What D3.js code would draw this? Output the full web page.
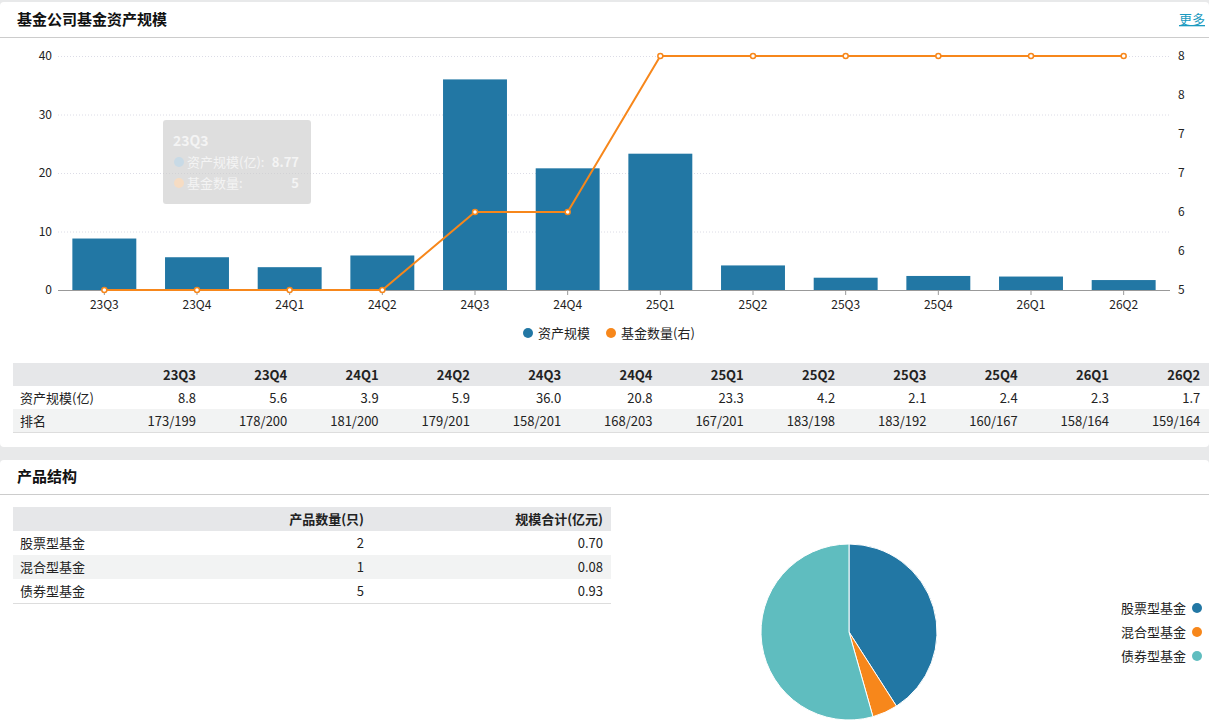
<!DOCTYPE html>
<html><head><meta charset="utf-8">
<script src="https://cdn.jsdelivr.net/npm/d3@7"></script>
<style>
body{margin:0;background:#e8e9ea;font-family:"Microsoft YaHei","Noto Sans CJK SC",sans-serif;}
</style></head>
<body><div id="root"></div>
<script>
// data
var quarters = ["23Q3","23Q4","24Q1","24Q2","24Q3","24Q4","25Q1","25Q2","25Q3","25Q4","26Q1","26Q2"]
var assets = [8.8,5.6,3.9,5.9,36.0,20.8,23.3,4.2,2.1,2.4,2.3,1.7]
var fundCount = [5,5,5,5,6,6,8,8,8,8,8,8]
var ranks = ["173/199","178/200","181/200","179/201","158/201","168/203","167/201","183/198","183/192","160/167","158/164","159/164"]
var leftTicks = [0,10,20,30,40]
var rightTicks = [5,5.5,6,6.5,7,7.5,8]
var types = ["股票型基金","混合型基金","债券型基金"]
var typeCount = [2,1,5]
var typeScale = [0.70,0.08,0.93]
var colors = ["#2277a4","#f7871b","#5fbdbf"]

var W = 1209, H = 724
var svg = d3.select("#root").append("svg").attr("width", W).attr("height", H)
var font = "Microsoft YaHei, Noto Sans CJK SC, sans-serif"

// cards
svg.append("rect").attr("x",0).attr("y",2).attr("width",W).attr("height",445).attr("rx",4).attr("fill","#fff")
svg.append("rect").attr("x",0).attr("y",460).attr("width",W).attr("height",270).attr("rx",4).attr("fill","#fff")
svg.append("line").attr("x1",0).attr("x2",W).attr("y1",37.5).attr("y2",37.5).attr("stroke","#ccc")
svg.append("line").attr("x1",0).attr("x2",W).attr("y1",494.5).attr("y2",494.5).attr("stroke","#ccc")
svg.append("text").attr("x",17).attr("y",25).text("基金公司基金资产规模").attr("font-size",15).attr("font-weight","bold").attr("fill","#111")
svg.append("text").attr("x",1205).attr("y",24).text("更多").attr("font-size",13).attr("fill","#1a9ac0").attr("text-anchor","end").attr("text-decoration","underline")
svg.append("text").attr("x",17).attr("y",482).text("产品结构").attr("font-size",15).attr("font-weight","bold").attr("fill","#111")

// chart
var x = d3.scaleBand().domain(quarters).range([58,1170]).paddingInner(0.31).paddingOuter(0.155)
var y = d3.scaleLinear().domain([0,40]).range([290,56])
var y2 = d3.scaleLinear().domain([5,8]).range([290,56])
var g = svg.append("g")

g.selectAll(".grid").data(leftTicks.slice(1)).enter().append("line")
  .attr("x1",58).attr("x2",1170).attr("y1",function(d){return y(d)+0.5}).attr("y2",function(d){return y(d)+0.5})
  .attr("stroke","#dcdce6").attr("stroke-dasharray","1,2")
g.selectAll(".lt").data(leftTicks).enter().append("text")
  .attr("x",52).attr("y",function(d){return y(d)+4}).attr("text-anchor","end").attr("font-size",12).attr("fill","#222").text(function(d){return d})
g.selectAll(".rt").data(rightTicks).enter().append("text")
  .attr("x",1178).attr("y",function(d){return y2(d)+4}).attr("font-size",12).attr("fill","#222").text(function(d){return Math.round(d)})

g.selectAll(".bar").data(assets).enter().append("rect")
  .attr("x",function(d,i){return x(quarters[i])}).attr("width",x.bandwidth())
  .attr("y",function(d){return y(d)}).attr("height",function(d){return 290-y(d)})
  .attr("fill","#2277a4")
g.append("line").attr("x1",58).attr("x2",1170).attr("y1",290.5).attr("y2",290.5).attr("stroke","#999")
var xc = function(i){return x(quarters[i])+x.bandwidth()/2}
g.selectAll(".xt").data(quarters).enter().append("line")
  .attr("x1",function(d,i){return xc(i)}).attr("x2",function(d,i){return xc(i)}).attr("y1",290).attr("y2",295).attr("stroke","#999")
g.selectAll(".xl").data(quarters).enter().append("text")
  .attr("x",function(d,i){return xc(i)}).attr("y",309).attr("text-anchor","middle").attr("font-size",12).attr("fill","#222").text(function(d){return d})

var line = d3.line().x(function(d,i){return xc(i)}).y(function(d){return y2(d)})
g.append("path").datum(fundCount).attr("d",line).attr("fill","none").attr("stroke","#f7871b").attr("stroke-width",2)
g.selectAll(".pt").data(fundCount).enter().append("circle")
  .attr("cx",function(d,i){return xc(i)}).attr("cy",function(d){return y2(d)}).attr("r",2.5)
  .attr("fill","#fff").attr("stroke","#f7871b").attr("stroke-width",1.5)

// legend
var lg = svg.append("g").attr("font-size",13).attr("fill","#222")
lg.append("circle").attr("cx",528).attr("cy",333).attr("r",5).attr("fill","#2277a4")
lg.append("text").attr("x",538).attr("y",338).text("资产规模")
lg.append("circle").attr("cx",611).attr("cy",333).attr("r",5).attr("fill","#f7871b")
lg.append("text").attr("x",621).attr("y",338).text("基金数量(右)")

// tooltip
var tt = svg.append("g")
tt.append("rect").attr("x",163).attr("y",120).attr("width",148).attr("height",84).attr("rx",3).attr("fill","#ccc").attr("opacity",0.65)
tt.append("text").attr("x",173).attr("y",146).text("23Q3").attr("font-size",14).attr("font-weight","bold").attr("fill","#f4f4f4")
tt.append("circle").attr("cx",179).attr("cy",162).attr("r",5).attr("fill","#c8dae6")
tt.append("text").attr("x",187).attr("y",167).text("资产规模(亿):").attr("font-size",13).attr("fill","#f4f4f4")
tt.append("text").attr("x",299).attr("y",167).text("8.77").attr("text-anchor","end").attr("font-size",13).attr("font-weight","bold").attr("fill","#f4f4f4")
tt.append("circle").attr("cx",179).attr("cy",183).attr("r",5).attr("fill","#f6dcc3")
tt.append("text").attr("x",187).attr("y",188).text("基金数量:").attr("font-size",13).attr("fill","#f4f4f4")
tt.append("text").attr("x",299).attr("y",188).text("5").attr("text-anchor","end").attr("font-size",13).attr("font-weight","bold").attr("fill","#f4f4f4")

// table 1
var t1 = svg.append("g").attr("font-size",13).attr("fill","#222")
t1.append("rect").attr("x",13).attr("y",363).attr("width",1196).attr("height",23).attr("fill","#e6e7e9")
t1.append("rect").attr("x",13).attr("y",409).attr("width",1196).attr("height",23).attr("fill","#f2f3f3")
t1.append("line").attr("x1",13).attr("x2",1209).attr("y1",432.5).attr("y2",432.5).attr("stroke","#ddd")
var colR = function(i){return 196 + i*91.3}
t1.selectAll(".h").data(quarters).enter().append("text").attr("x",function(d,i){return colR(i)}).attr("y",380)
  .attr("text-anchor","end").attr("font-weight","bold").text(function(d){return d})
t1.selectAll(".a").data(assets).enter().append("text").attr("x",function(d,i){return colR(i)}).attr("y",403)
  .attr("text-anchor","end").text(function(d){return d.toFixed(1)})
t1.selectAll(".r").data(ranks).enter().append("text").attr("x",function(d,i){return colR(i)}).attr("y",426)
  .attr("text-anchor","end").text(function(d){return d})
t1.append("text").attr("x",20).attr("y",403).text("资产规模(亿)")
t1.append("text").attr("x",20).attr("y",426).text("排名")

// table 2
var t2 = svg.append("g").attr("font-size",13).attr("fill","#222")
t2.append("rect").attr("x",13).attr("y",507).attr("width",598).attr("height",24).attr("fill","#e6e7e9")
t2.append("rect").attr("x",13).attr("y",555).attr("width",598).attr("height",24).attr("fill","#f2f3f3")
t2.append("line").attr("x1",13).attr("x2",611).attr("y1",603.5).attr("y2",603.5).attr("stroke","#ddd")
t2.append("text").attr("x",364).attr("y",524).attr("text-anchor","end").attr("font-weight","bold").text("产品数量(只)")
t2.append("text").attr("x",603).attr("y",524).attr("text-anchor","end").attr("font-weight","bold").text("规模合计(亿元)")
types.forEach(function(t,i){
  var yy = 548 + i*24
  t2.append("text").attr("x",20).attr("y",yy).text(t)
  t2.append("text").attr("x",364).attr("y",yy).attr("text-anchor","end").text(typeCount[i])
  t2.append("text").attr("x",603).attr("y",yy).attr("text-anchor","end").text(typeScale[i].toFixed(2))
})

// pie
var pie = d3.pie().sort(null)(typeScale)
var arc = d3.arc().innerRadius(0).outerRadius(88)
svg.append("g").attr("transform","translate(849,632)").selectAll("path").data(pie).enter().append("path")
  .attr("d",arc).attr("fill",function(d,i){return colors[i]}).attr("stroke","#fff").attr("stroke-width",1)
var pl = svg.append("g").attr("font-size",13).attr("fill","#222")
types.forEach(function(t,i){
  var yy = 608 + i*24
  pl.append("text").attr("x",1186).attr("y",yy+5).attr("text-anchor","end").text(t)
  pl.append("circle").attr("cx",1197).attr("cy",yy).attr("r",5).attr("fill",colors[i])
})
</script></body></html>
